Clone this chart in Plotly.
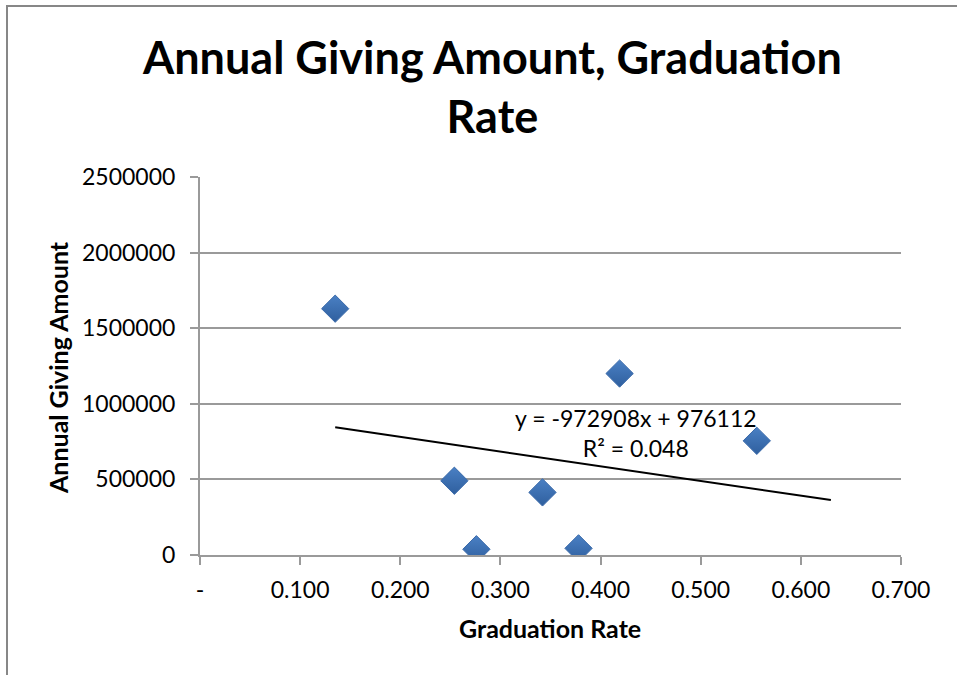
import plotly.graph_objects as go

# Graduation rate vs. annual giving
grad_rate = [0.135, 0.419, 0.254, 0.342, 0.276, 0.378, 0.556]
giving = [1629000, 1200000, 491000, 414000, 38000, 44000, 755000]

# Linear trend line (least squares fit), forecast to 0.63
slope = -972908
intercept = 976112
r_squared = 0.048
trend_end = 0.63

x_tickvals = [0.0, 0.1, 0.2, 0.3, 0.4, 0.5, 0.6, 0.7]
x_ticktext = ["-", "0.100", "0.200", "0.300", "0.400", "0.500", "0.600", "0.700"]
y_tickvals = [0, 500000, 1000000, 1500000, 2000000, 2500000]
y_ticktext = ["0", "500000", "1000000", "1500000", "2000000", "2500000"]

W, H = 957, 675
ML, MR, MT, MB = 200, 56, 177, 120
pw, ph = W - ML - MR, H - MT - MB


def px_x(p):
    return (p - ML) / pw


def px_y(p):
    return (H - MB - p) / ph


FONT = "Lato"
GRID = "#9a9a9a"

trend_x = [min(grad_rate), trend_end]
trend_y = [slope * v + intercept for v in trend_x]

fig = go.Figure()
fig.add_trace(go.Scatter(
    x=trend_x, y=trend_y, mode="lines",
    line=dict(color="black", width=2), hoverinfo="skip", showlegend=False,
))
fig.add_trace(go.Scatter(
    x=grad_rate, y=giving, mode="markers",
    marker=dict(symbol="diamond", size=21, color="#4A80C4",
                gradient=dict(type="vertical", color="#2F5F9E"),
                line=dict(color="#3A6AAA", width=1)),
    showlegend=False,
))

fig.update_layout(
    width=W, height=H,
    margin=dict(l=ML, r=MR, t=MT, b=MB),
    paper_bgcolor="white", plot_bgcolor="white",
    font=dict(family=FONT, color="black", size=23),
    xaxis=dict(
        range=[0, 0.7], tickvals=x_tickvals, ticktext=x_ticktext,
        showgrid=False, zeroline=False,
        showline=True, linecolor=GRID, linewidth=2,
        ticks="outside", ticklen=8, tickwidth=2, tickcolor=GRID,
        tickfont=dict(family=FONT, size=23, color="black"),
        ticklabelstandoff=5,
    ),
    yaxis=dict(
        range=[0, 2500000], tickvals=y_tickvals, ticktext=y_ticktext,
        showgrid=True, gridcolor=GRID, gridwidth=2, zeroline=False,
        showline=True, linecolor=GRID, linewidth=2,
        ticks="outside", ticklen=8, tickwidth=2, tickcolor=GRID,
        tickfont=dict(family=FONT, size=23, color="black"),
        ticklabelstandoff=10,
    ),
    shapes=[dict(
        type="rect", xref="paper", yref="paper",
        x0=px_x(7), x1=px_x(1100), y0=px_y(800), y1=px_y(6),
        line=dict(color="#878787", width=2), fillcolor="rgba(0,0,0,0)",
        layer="below",
    )],
    annotations=[
        dict(text="<b>Annual Giving Amount, Graduation</b><br><b>Rate</b>",
             xref="paper", yref="paper", x=px_x(492), y=px_y(86),
             xanchor="center", yanchor="middle", showarrow=False,
             font=dict(family=FONT, size=45, color="black")),
        dict(text="<b>Graduation Rate</b>",
             xref="paper", yref="paper", x=px_x(550), y=px_y(628),
             xanchor="center", yanchor="middle", showarrow=False,
             font=dict(family=FONT, size=25, color="black")),
        dict(text="<b>Annual Giving Amount</b>", textangle=-90,
             xref="paper", yref="paper", x=px_x(58), y=px_y(368),
             xanchor="center", yanchor="middle", showarrow=False,
             font=dict(family=FONT, size=25, color="black")),
        dict(text=f"y = {slope}x + {intercept}<br>R² = {r_squared}",
             xref="paper", yref="paper", x=px_x(636), y=px_y(433),
             xanchor="center", yanchor="middle", align="center",
             showarrow=False,
             font=dict(family=FONT, size=23, color="black")),
    ],
)

fig.write_html("out.html")
